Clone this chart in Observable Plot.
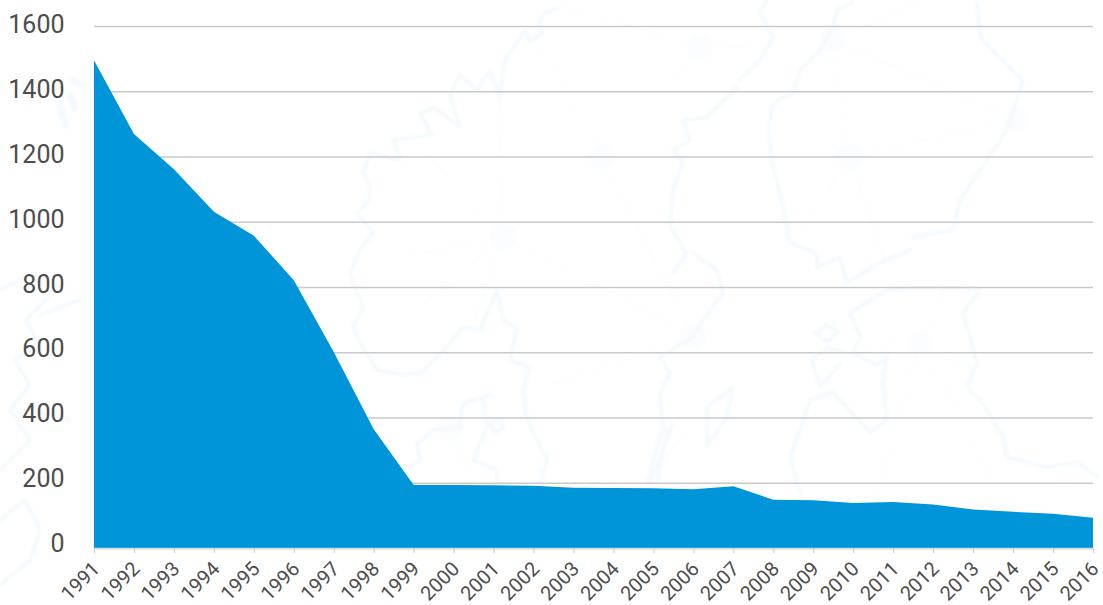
<!DOCTYPE html>
<html>
<head>
<meta charset="utf-8">
<script src="https://cdn.jsdelivr.net/npm/d3@7"></script>
<script src="https://cdn.jsdelivr.net/npm/@observablehq/plot@0.6"></script>
<style>
  html, body { margin: 0; padding: 0; background: #fff; }
  #wrap { position: relative; width: 1103px; height: 605px; overflow: hidden; }
  #map { position: absolute; left: 0; top: 0; }
  #chart { position: absolute; left: 0; top: 0; }
  #chart svg { background: transparent; }
</style>
</head>
<body>
<div id="wrap">
  <!-- faint decorative map watermark behind the chart -->
  <svg id="map" width="1103" height="605" viewBox="0 0 1103 605" fill="none" stroke-linejoin="round" stroke-linecap="round">
    <defs><filter id="soft"><feGaussianBlur stdDeviation="0.8"/></filter></defs>
    <g filter="url(#soft)">
    <g stroke="#fafcfe" stroke-width="1.5">
      <path d="M503 237L603 157L700 47M603 157L537 40M603 157L693 337M503 237L423 150M503 237L500 100M503 237L400 257M503 237L370 350M503 237L693 337M503 237L475 320"/>
      <path d="M700 47L560 5M700 47L775 45M833 40L1017 120M833 40L850 157M833 40L920 0M850 157L1017 120M850 157L775 105M850 157L795 240M850 157L885 260"/>
      <path d="M693 337L530 390M920 343L860 550M920 343L945 288M920 343L860 345M920 343L1010 510M920 343L975 370M450 428L475 490M650 480L693 420"/>
    </g>
    <g fill="#fbfdfe" stroke="none">
      <circle cx="503" cy="237" r="13"/><circle cx="603" cy="157" r="13"/><circle cx="700" cy="47" r="13"/>
      <circle cx="693" cy="337" r="13"/><circle cx="450" cy="428" r="13"/><circle cx="833" cy="40" r="13"/>
      <circle cx="850" cy="157" r="13"/><circle cx="1017" cy="120" r="13"/><circle cx="920" cy="343" r="13"/>
    </g>
    <g stroke="#f5fafe" stroke-width="4">
      <path d="M557 8L543 14L540 25L543 32L530 42L525 30L507 57L503 67L500 100L490 70L478 90L460 75L450 95L460 127L435 108L420 113L432 135L393 140L400 160L370 153L363 173L370 187L367 203L357 213L373 233L360 250L350 273L363 307L353 327L360 343L377 370L403 375L423 372L447 347L463 327L480 330L497 290L503 320L517 328L510 360L530 367L523 390L527 420L547 460L540 483"/>
      <path d="M490 395L463 403L460 427L433 430L417 443L420 460L407 470M483 397L487 427L473 460L497 470L497 483"/>
      <path d="M490 423L502 420L503 428L495 432Z"/>
      <path d="M737 87L707 117L683 120L690 140L673 150L683 163L673 190L670 227L687 253L673 273M693 253L717 270L723 293L703 320L693 337L660 357L670 373L660 393L663 427L647 483"/>
      <path d="M733 387L707 407L707 447L727 417Z"/>
      <path d="M673 423L650 483M667 430L657 483"/>
      <path d="M767 0L760 13L773 37L760 60L740 80"/>
      <path d="M853 2L837 10L833 27L820 50L800 70L793 93L773 103L768 130L773 167L783 207L790 243L817 253L817 267L840 257L847 283L880 263L910 250M913 237L953 230L960 200L1007 130L1023 80L980 37L977 3"/>
      <path d="M980 290L963 313L977 363L967 387L983 403L1003 437L1007 457L1047 467L1077 462L1097 477"/>
      <path d="M980 290L940 287L887 290L850 313L860 337L853 353L877 365L887 357L883 383L887 420L870 432L837 397L833 392L810 400L800 430L790 457L800 493"/>
      <path d="M815 333L827 325L838 332L828 342Z"/>
      <path d="M847 353L827 348L812 360L820 387L840 363"/>
      <path d="M0 290L30 275L60 285L45 300L25 320L40 345L15 360L30 385L10 410L30 440L0 470M40 315L80 300M30 410L70 420M0 520L25 500L40 530L30 560L0 585"/>
      <path d="M65 125L60 105M70 95L75 108M72 80L82 85" stroke-width="8"/>
    </g>
    </g>
  </svg>
  <div id="chart"></div>
</div>
<script>
const years = [1991,1992,1993,1994,1995,1996,1997,1998,1999,2000,2001,2002,2003,2004,2005,2006,2007,2008,2009,2010,2011,2012,2013,2014,2015,2016];
const values = [1495,1269,1161,1031,957,821,601,364,193,193,192,191,185,184,183,180,189,148,146,138,141,133,118,111,105,93];
const yTicks = [0,200,400,600,800,1000,1200,1400,1600];
const rows = years.map((year, i) => ({year, value: values[i]}));

const font = "Roboto, 'Noto Sans', sans-serif";
const yLabels = (ticks, dy) => Plot.axisY(ticks, {
  tickSize: 0,
  tickPadding: 0,
  dx: -30,
  dy,
  fontSize: 25,
  fill: "#4d4d4d",
  tickFormat: d => String(d),
  label: null
});
const chart = Plot.plot({
  width: 1103,
  height: 605,
  marginLeft: 94,
  marginRight: 10,
  marginTop: 26,
  marginBottom: 57,
  style: {background: "transparent", fontFamily: font, overflow: "visible"},
  x: {type: "linear", domain: [1991, 2016]},
  y: {domain: [0, 1600]},
  marks: [
    Plot.ruleY(yTicks, {stroke: "#c9c9c9", strokeWidth: 1.5}),
    Plot.areaY(rows, {x: "year", y: "value", fill: "#0095d8"}),
    Plot.ruleY([0], {stroke: "#d0dbe2", strokeWidth: 1.5}),
    yLabels([1000, 1200, 1400, 1600], -2),
    yLabels([800], -3),
    yLabels([200, 400, 600], -4),
    yLabels([0], -5),
    Plot.axisX(years, {
      tickSize: 5,
      stroke: "#c9c9c9",
      tickFormat: () => "",
      label: null
    }),
    Plot.axisX(years, {
      tickSize: 0,
      tickPadding: 17,
      tickRotate: -45,
      fill: "#4d4d4d",
      fontSize: 20,
      dx: 2,
      tickFormat: d => String(d),
      label: null
    })
  ]
});
document.getElementById("chart").appendChild(chart);
</script>
</body>
</html>
